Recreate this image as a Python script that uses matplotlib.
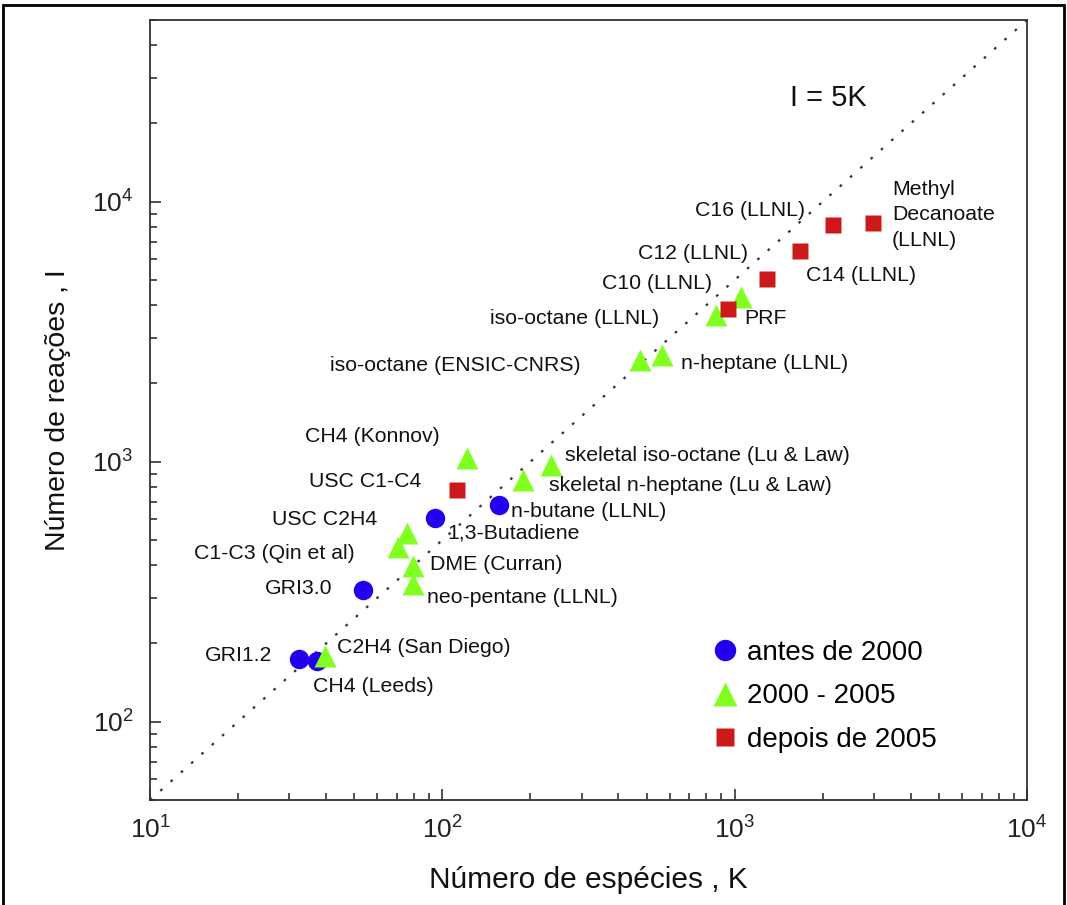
import numpy as np
import matplotlib
matplotlib.use('Agg')
import matplotlib.pyplot as plt
from matplotlib.patches import Rectangle

plt.rcParams['font.family'] = ['Liberation Sans', 'DejaVu Sans']

# antes de 2000
blue_names = ['GRI1.2', 'CH4 (Leeds)', 'GRI3.0', '1,3-Butadiene', 'n-butane (LLNL)']
blue_K = [32.3, 37.3, 53.5, 94.4, 156]
blue_I = [174, 171, 321, 608, 682]

# 2000 - 2005
green_names = ['C2H4 (San Diego)', 'C1-C3 (Qin et al)', 'USC C2H4', 'DME (Curran)',
               'neo-pentane (LLNL)', 'CH4 (Konnov)', 'skeletal n-heptane (Lu & Law)',
               'skeletal iso-octane (Lu & Law)', 'iso-octane (ENSIC-CNRS)',
               'n-heptane (LLNL)', 'iso-octane (LLNL)', 'PRF']
green_K = [39.7, 70.5, 75.7, 79.4, 79.4, 121.5, 189, 235, 475, 564, 864, 1051]
green_I = [179, 470, 532, 397, 339, 1034, 851, 971, 2462, 2573, 3667, 4300]

# depois de 2005
red_names = ['USC C1-C4', 'C10 (LLNL)', 'C12 (LLNL)', 'C14 (LLNL)', 'C16 (LLNL)',
             'Methyl\nDecanoate\n(LLNL)']
red_K = [112, 949, 1290, 1673, 2170, 2973]
red_I = [779, 3869, 5044, 6464, 8138, 8284]

# label offsets in pixels from the marker (dx, dy, ha)
label_pos = {
    'GRI1.2': (-27, 4, 'right'),
    'CH4 (Leeds)': (-4, -25, 'left'),
    'GRI3.0': (-31, 2, 'right'),
    '1,3-Butadiene': (12, -15, 'left'),
    'n-butane (LLNL)': (12, -7, 'left'),
    'C2H4 (San Diego)': (12, 9, 'left'),
    'C1-C3 (Qin et al)': (-43, -6, 'right'),
    'USC C2H4': (-30, 14, 'right'),
    'DME (Curran)': (17, 2, 'left'),
    'neo-pentane (LLNL)': (14, -14, 'left'),
    'CH4 (Konnov)': (-27, 21, 'right'),
    'skeletal n-heptane (Lu & Law)': (26, -6, 'left'),
    'skeletal iso-octane (Lu & Law)': (14, 10, 'left'),
    'iso-octane (ENSIC-CNRS)': (-60, -5, 'right'),
    'n-heptane (LLNL)': (19, -8, 'left'),
    'iso-octane (LLNL)': (-57, -3, 'right'),
    'PRF': (3, -21, 'left'),
    'USC C1-C4': (-35, 8, 'right'),
    'C10 (LLNL)': (-16, 25, 'right'),
    'C12 (LLNL)': (-19, 26, 'right'),
    'C14 (LLNL)': (6, -24, 'left'),
    'C16 (LLNL)': (-28, 15, 'right'),
    'Methyl\nDecanoate\n(LLNL)': (19, 8, 'left'),
}

fig = plt.figure(figsize=(10.67, 9.05), dpi=100)
ax = fig.add_axes([0.1406, 0.1160, 0.8219, 0.8619])

# I = 5K
kline = np.array([10, 1e4])
ax.plot(kline, 5 * kline, color='#333333', lw=1.6, linestyle=(0, (1.2, 5)))

ax.plot(blue_K, blue_I, 'o', color='#2200ee', ms=14, mec='none', label='antes de 2000')
ax.plot(green_K, green_I, '^', color='#80ff20', ms=16, mec='none', label='2000 - 2005')
ax.plot(red_K, red_I, 's', color='#cc1a1a', ms=12, mec='none', label='depois de 2005')

for names, K, I in [(blue_names, blue_K, blue_I), (green_names, green_K, green_I),
                    (red_names, red_K, red_I)]:
    for n, k, i in zip(names, K, I):
        dx, dy, ha = label_pos[n]
        ax.annotate(n, (k, i), xytext=(dx, dy), textcoords='offset pixels',
                    ha=ha, va='center', fontsize=15.3, color='#111111',
                    linespacing=1.45)

ax.text(0.773, 0.90, 'I = 5K', transform=ax.transAxes, ha='center', va='center',
        fontsize=21, color='#111111')

ax.set_xscale('log')
ax.set_yscale('log')
ax.set_xlim(10, 1e4)
ax.set_ylim(50, 5e4)

ax.tick_params(which='both', direction='in', top=False, right=False,
               labelsize=19, width=1.1, colors='#222222')
ax.tick_params(which='major', length=8, pad=12)
ax.tick_params(which='minor', length=5)
for s in ax.spines.values():
    s.set_linewidth(1.3)
    s.set_color('#333333')

ax.set_xlabel('Número de espécies , K', fontsize=21.5, color='#111111', labelpad=16)
ax.set_ylabel('Número de reações , I', fontsize=20.5, color='#111111', labelpad=15)

ax.legend(loc='upper left', bbox_to_anchor=(0.64, 0.205), frameon=False,
          fontsize=20, handlelength=1.0, handletextpad=0.3, labelspacing=0.62,
          borderpad=0, borderaxespad=0, numpoints=1, markerscale=1.1)

# page frame around the figure
fig.patches.append(Rectangle((0.003, -0.01), 0.994, 1.004, transform=fig.transFigure,
                             fill=False, lw=2, edgecolor='black'))

fig.savefig('out.png', dpi=100)
